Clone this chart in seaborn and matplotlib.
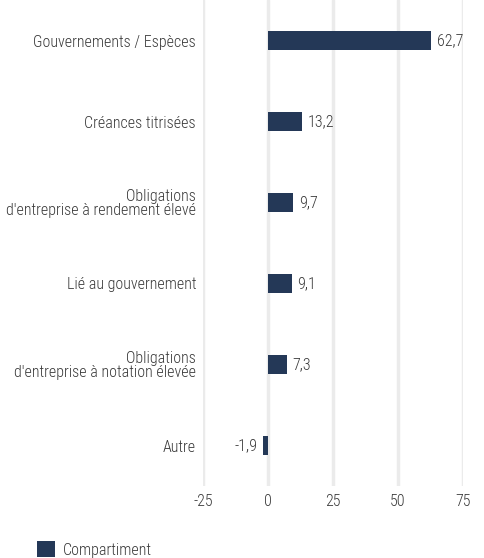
import numpy as np
import pandas as pd
import matplotlib
matplotlib.use("Agg")
import matplotlib.pyplot as plt
import seaborn as sns

categories = [
    "Gouvernements / Espèces",
    "Créances titrisées",
    "Obligations\nd'entreprise à rendement élevé",
    "Lié au gouvernement",
    "Obligations\nd'entreprise à notation élevée",
    "Autre",
]
values = [62.7, 13.2, 9.7, 9.1, 7.3, -1.9]
series_name = "Compartiment"
x_ticks = [-25, 0, 25, 50, 75]

BAR_COLOR = "#1c365f"
TEXT_COLOR = "#3a3a3a"
GRID_COLOR = "#ebebeb"

df = pd.DataFrame({"category": categories, "value": values})

sns.set_style("white")
plt.rcParams["font.family"] = ["Roboto Condensed", "Liberation Sans Narrow", "DejaVu Sans"]
plt.rcParams["font.stretch"] = "condensed"
plt.rcParams["font.weight"] = "light"
plt.rcParams["font.size"] = 11.5

fig = plt.figure(figsize=(4.84, 5.58), dpi=100)
ax = fig.add_axes([203 / 484, 72 / 558, 260 / 484, 486 / 558])

sns.barplot(data=df, x="value", y="category", color=BAR_COLOR, width=0.23,
            orient="h", label=series_name, ax=ax, zorder=3, linewidth=0)

labels = [f"{v:.1f}".replace(".", ",") for v in values]
ax.bar_label(ax.containers[0], labels=labels, padding=4, color=TEXT_COLOR, fontsize=11.5)

ax.set_xlim(-25, 75)
ax.set_xticks(x_ticks)
ax.set_xticklabels([str(t) for t in x_ticks])
ax.grid(axis="x", color=GRID_COLOR, linewidth=2.5, zorder=0)
ax.grid(axis="y", visible=False)
for s in ax.spines.values():
    s.set_visible(False)
ax.tick_params(axis="both", length=0, colors=TEXT_COLOR, labelsize=11.5)
ax.tick_params(axis="y", pad=5)
ax.tick_params(axis="x", pad=6)
ax.set_xlabel("")
ax.set_ylabel("")
for t in ax.get_yticklabels():
    t.set_linespacing(0.95)

handles, lbls = ax.get_legend_handles_labels()
if ax.get_legend() is not None:
    ax.get_legend().remove()
fig.legend(handles, lbls, loc="lower left", bbox_to_anchor=(0.047, -0.025),
           frameon=False, handlelength=1.1, handleheight=1.1, handletextpad=0.5,
           labelcolor=TEXT_COLOR, fontsize=11.5)

fig.savefig("out.png", dpi=100)
